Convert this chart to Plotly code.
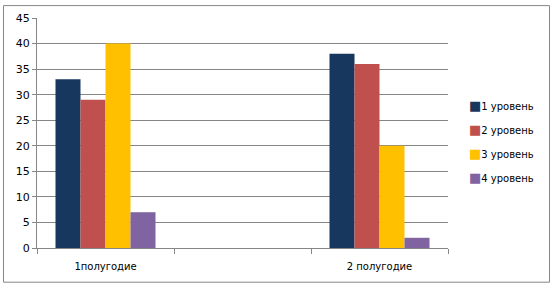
import plotly.graph_objects as go

categories = ["1полугодие", " ", "2 полугодие"]
series_names = ["1 уровень", "2 уровень", "3 уровень", "4 уровень"]
level1 = [33, None, 38]
level2 = [29, None, 36]
level3 = [40, None, 20]
level4 = [7, None, 2]
colors = ["#17375E", "#C0504D", "#FFC000", "#8064A2"]

values = [level1, level2, level3, level4]

fig = go.Figure()
for name, vals, col in zip(series_names, values, colors):
    fig.add_trace(go.Bar(x=categories, y=vals, name=name, marker_color=col,
                         marker_line_width=0, showlegend=False))

W, H = 553, 285
L, R, T, B = 37, 105, 16, 37
pw, ph = W - L - R, H - T - B

# legend built as text annotations (colored square glyph + series name)
legend_x_px = 467
legend_y0_px = 104
legend_step_px = 24.3
annotations = []
for i, (name, col) in enumerate(zip(series_names, colors)):
    ypx = legend_y0_px + i * legend_step_px
    annotations.append(dict(
        xref="paper", yref="paper",
        x=(legend_x_px - L) / pw, y=((H - B) - ypx) / ph,
        xanchor="left", yanchor="middle", showarrow=False,
        text=f"<span style='color:{col};font-size:13px'>■</span>{name}",
        font=dict(size=10, color="black", family="DejaVu Sans"),
    ))

fig.update_layout(
    width=W, height=H,
    margin=dict(l=L, r=R, t=T, b=B, pad=0),
    paper_bgcolor="white", plot_bgcolor="white",
    barmode="group", bargap=0.27, bargroupgap=0,
    font=dict(family="DejaVu Sans", size=10, color="black"),
    showlegend=False,
    annotations=annotations,
    shapes=[dict(type="rect", xref="paper", yref="paper",
                 x0=(3.5 - L) / pw, x1=(549.5 - L) / pw,
                 y0=-(282.5 - (H - B)) / ph, y1=((H - B) - 3.5) / ph,
                 line=dict(color="#868686", width=1), layer="below")],
)
fig.update_xaxes(type="category", showline=True, linecolor="#868686", linewidth=1,
                 ticks="outside", tickson="boundaries", ticklen=5, tickcolor="#868686",
                 showgrid=False, tickfont=dict(size=10), ticklabelstandoff=9)
fig.update_yaxes(range=[0, 45], dtick=5, showline=True, linecolor="#868686", linewidth=1,
                 ticks="outside", ticklen=4, tickcolor="#868686",
                 showgrid=True, gridcolor="#868686", gridwidth=1, zeroline=False,
                 tickfont=dict(size=11))

fig.write_html("out.html")
